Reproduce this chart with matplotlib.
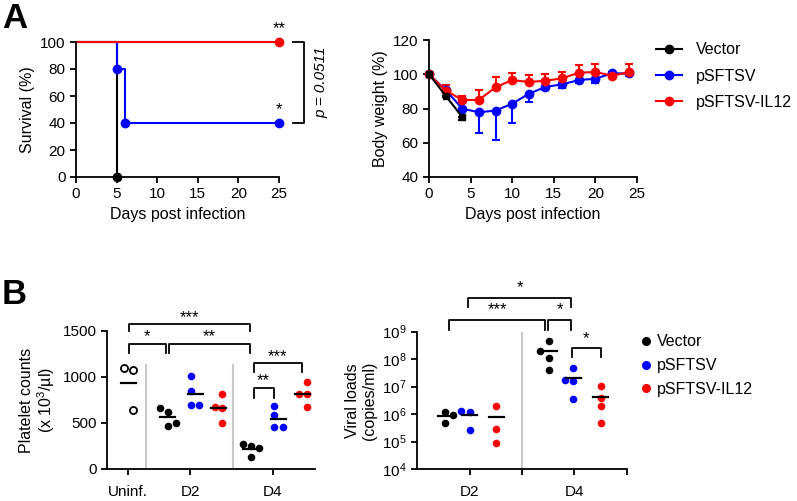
import numpy as np
import matplotlib.pyplot as plt
from matplotlib.lines import Line2D

plt.rcParams['font.family'] = ['Liberation Sans', 'DejaVu Sans']
plt.rcParams['mathtext.fontset'] = 'custom'
plt.rcParams['mathtext.rm'] = 'Liberation Sans'
plt.rcParams['mathtext.it'] = 'Liberation Sans:italic'
plt.rcParams['axes.linewidth'] = 1.3
plt.rcParams['xtick.major.width'] = 1.3
plt.rcParams['ytick.major.width'] = 1.3
plt.rcParams['xtick.major.size'] = 4
plt.rcParams['ytick.major.size'] = 4
plt.rcParams['xtick.labelsize'] = 11
plt.rcParams['ytick.labelsize'] = 11
plt.rcParams['axes.labelsize'] = 11.5

groups = ['Vector', 'pSFTSV', 'pSFTSV-IL12']
colors = ['black', '#0000ff', '#ff0000']

# survival (Kaplan-Meier steps)
surv_days_vector = [0, 5]
surv_vector = [100, 0]
surv_days_psftsv = [0, 5, 6, 25]
surv_psftsv = [100, 80, 40, 40]
surv_days_il12 = [0, 25]
surv_il12 = [100, 100]

# body weight (%), mean and one-sided error
wt_days = [0, 2, 4, 6, 8, 10, 12, 14, 16, 18, 20, 22, 24]
wt_days_vector = [0, 2, 4]
wt_vector = [100, 87.5, 75]
wt_vector_err = [0, 1, 1.5]
wt_psftsv = [100, 90.8, 79.9, 77.8, 78.8, 82.8, 88.6, 92.6, 94.1, 96.6, 97.4, 100.5, 100.5]
wt_psftsv_err = [0, 1.5, 1.5, 12.1, 17.2, 11.1, 4.8, 2, 2.3, 1.5, 2.6, 1, 1.5]
wt_il12 = [100, 90.5, 85, 85, 92.4, 96.6, 95.5, 96.2, 97.6, 100.9, 101.3, 99.2, 101.1]
wt_il12_err = [0, 3.4, 2.3, 5.8, 5.9, 4.2, 3.9, 3.8, 3.9, 4.5, 4.5, 2.3, 4.7]

# platelet counts (x10^3/ul)
plt_uninf = [1101, 1076, 641]
plt_d2 = [[660, 623, 497, 471], [1015, 851, 696, 696], [812, 677, 660, 503]]
plt_d4 = [[268, 250, 225, 130], [688, 587, 460, 460], [942, 812, 812, 677]]

# viral loads (copies/ml)
vl_d2 = [[1.2e6, 9.1e5, 4.6e5], [1.29e6, 1.15e6, 2.6e5], [1.95e6, 2.8e5, 8.5e4]]
vl_d4 = [[4.7e8, 1.95e8, 1.07e8, 4e7], [4.6e7, 1.8e7, 1.6e7, 3.4e6], [1.07e7, 3.7e6, 1.9e6, 4.6e5]]

# horizontal spread of dots (layout only, in px units)
plt_uninf_jit = [-4.5, 4, 4]
plt_d2_jit = [[-8, 0, 8, 0], [-4.5, -4.5, -4.5, 4], [3.5, -4, 3.5, 3.5]]
plt_d4_jit = [[-8, 0, 8, 0], [-4.5, -4.5, -4.5, 4.5], [4, -4, 4, 4]]
vl_d2_jit = [[0, 8, 0], [-8.5, 0, 0], [0, 0, 0]]
vl_d4_jit = [[0, -9, 0, 0], [0, -8, 0, 0], [0, 0, 0, 0]]

fig = plt.figure(figsize=(7.97, 5.01), dpi=100)


def add_axes(l, t, r, b):
    W, H = 797, 501
    return fig.add_axes([l / W, 1 - b / H, (r - l) / W, (b - t) / H])


def clean(ax):
    ax.spines['top'].set_visible(False)
    ax.spines['right'].set_visible(False)


def bracket(ax, x1, x2, ytop, ybot, txt, ty, fs=12):
    ax.plot([x1, x1, x2, x2], [ybot, ytop, ytop, ybot], color='black', lw=1.3, clip_on=False)
    ax.text((x1 + x2) / 2, ty, txt, ha='center', va='center', fontsize=fs)


def mean_line(ax, x, vals):
    ax.plot([x - 7.5, x + 7.5], [np.mean(vals)] * 2, color='black', lw=1.6, zorder=4, clip_on=False)


# ---- A: survival
ax1 = add_axes(76, 42, 279, 177)
clean(ax1)
ax1.step(surv_days_vector, surv_vector, where='post', color=colors[0], lw=1.5, clip_on=False)
ax1.plot(surv_days_vector[-1], surv_vector[-1], 'o', color=colors[0], ms=6, clip_on=False, zorder=5)
ax1.step(surv_days_psftsv, surv_psftsv, where='post', color=colors[1], lw=1.5, clip_on=False)
ax1.plot(surv_days_psftsv[1:], surv_psftsv[1:], 'o', color=colors[1], ms=6, clip_on=False, zorder=5)
ax1.step(surv_days_il12, surv_il12, where='post', color=colors[2], lw=1.5, clip_on=False)
ax1.plot(surv_days_il12[-1], surv_il12[-1], 'o', color=colors[2], ms=6, clip_on=False, zorder=5)
ax1.set_xlim(0, 25)
ax1.set_ylim(0, 100)
ax1.set_xticks(range(0, 26, 5))
ax1.set_yticks(range(0, 101, 20))
ax1.set_xlabel('Days post infection')
ax1.set_ylabel('Survival (%)')
ax1.text(25, 110, '**', ha='center', va='center', fontsize=12)
ax1.text(25, 50, '*', ha='center', va='center', fontsize=12)
ax1.plot([26.7, 28.1, 28.1, 26.7], [100, 100, 40, 40], color='black', lw=1.3, clip_on=False)
ax1.text(30.2, 70, 'p = 0.0511', rotation=90, ha='center', va='center', fontsize=11, style='italic')

# ---- A: body weight
ax2 = add_axes(429, 40, 637, 177)
clean(ax2)
ax2.errorbar(wt_days, wt_psftsv, yerr=[wt_psftsv_err, np.zeros(len(wt_days))], color=colors[1],
             marker='o', ms=6, lw=1.5, capsize=3, elinewidth=1.5, capthick=1.5, label=groups[1], clip_on=False)
ax2.errorbar(wt_days, wt_il12, yerr=[np.zeros(len(wt_days)), wt_il12_err], color=colors[2],
             marker='o', ms=6, lw=1.5, capsize=3, elinewidth=1.5, capthick=1.5, label=groups[2], clip_on=False)
ax2.errorbar(wt_days_vector, wt_vector, yerr=[wt_vector_err, np.zeros(3)], color=colors[0],
             marker='s', ms=4, lw=1.5, capsize=3, elinewidth=1.5, capthick=1.5, label=groups[0], clip_on=False)
ax2.set_xlim(0, 25)
ax2.set_ylim(40, 120)
ax2.set_xticks(range(0, 26, 5))
ax2.set_yticks(range(40, 121, 20))
ax2.set_xlabel('Days post infection')
ax2.set_ylabel('Body weight (%)')
h_a = [Line2D([], [], color=c, marker='o', ms=6, lw=1.5) for c in colors]
ax2.legend(h_a, groups, loc='upper left', bbox_to_anchor=(650 / 797, 1 - 36 / 501),
           bbox_transform=fig.transFigure, frameon=False, fontsize=11.5, handlelength=1.6,
           handletextpad=0.9, labelspacing=0.7, borderaxespad=0)

# ---- B: platelets (x in px units)
ax3 = add_axes(107, 331, 315, 469)
clean(ax3)
ax3.set_xlim(0, 208)
ax3.set_ylim(0, 1500)
uninf_x = 21.8
d2_x = 83 + np.array([-22.5, 5, 28.5])
d4_x = 166 + np.array([-22.5, 5.5, 29.5])
ax3.axvline(38.7, ymax=1130 / 1500, color='#c8c8c8', lw=1.5)
ax3.axvline(126, ymax=1130 / 1500, color='#c8c8c8', lw=1.5)
ax3.scatter(uninf_x + np.array(plt_uninf_jit), plt_uninf, s=26, facecolor='white',
            edgecolor='black', linewidth=1.3, zorder=3, clip_on=False)
mean_line(ax3, uninf_x, plt_uninf)
for i in range(3):
    ax3.scatter(d2_x[i] + np.array(plt_d2_jit[i]), plt_d2[i], s=30, color=colors[i], zorder=3, lw=0)
    mean_line(ax3, d2_x[i], plt_d2[i])
    ax3.scatter(d4_x[i] + np.array(plt_d4_jit[i]), plt_d4[i], s=30, color=colors[i], zorder=3, lw=0)
    mean_line(ax3, d4_x[i], plt_d4[i])
ax3.set_xticks([21, 83, 166])
ax3.set_xticklabels(['Uninf.', 'D2', 'D4'])
ax3.tick_params(axis='x', pad=7.5)
ax3.set_yticks([0, 500, 1000, 1500])
ax3.set_ylabel('Platelet counts\n(x 10$^3$/\u00b5l)', linespacing=1.1)
bracket(ax3, uninf_x, d4_x[0] - 1, 1573, 1500, '***', 1645)
bracket(ax3, uninf_x, d2_x[0] - 1.5, 1359, 1264, '*', 1435)
bracket(ax3, d2_x[0] + 1.5, d4_x[0] - 1, 1359, 1264, '**', 1435)
bracket(ax3, d4_x[0] + 3, d4_x[2] - 1, 1149, 1058, '***', 1225)
bracket(ax3, d4_x[0] + 3, d4_x[1] - 5, 884, 775, '**', 960)

# ---- B: viral loads (x in px units)
ax4 = add_axes(417.3, 331.7, 626.7, 469)
clean(ax4)
ax4.set_yscale('log')
ax4.set_xlim(0, 209.4)
ax4.set_ylim(1e4, 1e9)
step = 52.35
ax4.axvline(2 * step, color='#c8c8c8', lw=1.5)
d2v = step + np.array([-24.5, 0, 26.5])
d4v = 3 * step + np.array([-25, -1, 26.4])
for i in range(3):
    ax4.scatter(d2v[i] + np.array(vl_d2_jit[i]), vl_d2[i], s=30, color=colors[i], zorder=3, lw=0)
    mean_line(ax4, d2v[i], vl_d2[i])
    ax4.scatter(d4v[i] + np.array(vl_d4_jit[i]), vl_d4[i], s=30, color=colors[i], zorder=3, lw=0)
    mean_line(ax4, d4v[i], vl_d4[i])
ax4.set_xticks(np.arange(1, 5) * step)
ax4.set_xticklabels(['D2', '', 'D4', ''])
ax4.tick_params(axis='x', pad=7.5)
ax4.set_yticks([10.0 ** k for k in range(4, 10)])
ax4.set_yticklabels(['10$^{%d}$' % k for k in range(4, 10)])
ax4.tick_params(axis='y', which='minor', length=2, width=1)
ax4.set_ylabel('Viral loads\n(copies/ml)', linespacing=1.1)
bracket(ax4, d2v[1] - 2, d4v[1] - 2, 10 ** 10.23, 10 ** 9.89, '*', 10 ** 10.62)
bracket(ax4, d2v[0] + 4, d4v[0] - 4.5, 10 ** 9.42, 10 ** 9.05, '***', 10 ** 9.8)
bracket(ax4, d4v[0] - 1.5, d4v[1] - 2, 10 ** 9.42, 10 ** 9.05, '*', 10 ** 9.8)
bracket(ax4, d4v[1] - 1.5, d4v[2], 10 ** 8.41, 10 ** 8.09, '*', 10 ** 8.75)

h_b = [Line2D([], [], color=c, marker='o', ms=5.5, lw=0) for c in colors]
ax4.legend(h_b, groups, loc='upper left', bbox_to_anchor=(633 / 797, 1 - 328 / 501),
           bbox_transform=fig.transFigure, frameon=False, fontsize=11.5, handlelength=0.8,
           handletextpad=0.3, labelspacing=0.55, borderaxespad=0)

fig.text(2 / 797, 1 - 18 / 501, 'A', fontsize=25, fontweight='bold', va='center')
fig.text(2 / 797, 1 - 295 / 501, 'B', fontsize=25, fontweight='bold', va='center')

fig.savefig('out.png', dpi=100)
